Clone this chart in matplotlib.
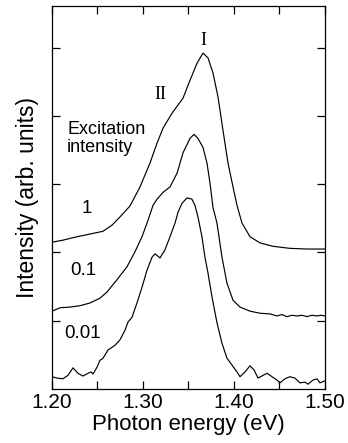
import numpy as np
import matplotlib.pyplot as plt

plt.rcParams['font.family'] = ['Liberation Sans', 'DejaVu Sans']

# spectra (photon energy in eV, intensity in arb. units)
e1 = [1.200, 1.212, 1.2275, 1.2418, 1.256, 1.266, 1.2747, 1.2857, 1.2967, 1.3077,
      1.3154, 1.322, 1.3319, 1.3385, 1.344, 1.3516, 1.3593, 1.3659, 1.3714, 1.3769,
      1.3824, 1.3879, 1.3934, 1.3989, 1.4033, 1.4088, 1.4176, 1.4286, 1.4429, 1.4615,
      1.4802, 1.500]
i1 = [2.15, 2.18, 2.23, 2.27, 2.31, 2.40, 2.52, 2.68, 2.96, 3.31,
      3.60, 3.82, 4.04, 4.16, 4.26, 4.52, 4.77, 4.92, 4.85, 4.63,
      4.28, 3.79, 3.31, 2.96, 2.69, 2.43, 2.23, 2.14, 2.09, 2.06,
      2.05, 2.05]

e2 = [1.200, 1.2088, 1.2198, 1.2308, 1.2418, 1.2527, 1.2604, 1.2714, 1.2824, 1.2912,
      1.2989, 1.3055, 1.311, 1.3154, 1.322, 1.3297, 1.3374, 1.344, 1.3516, 1.356,
      1.3604, 1.3659, 1.3703, 1.3736, 1.3769, 1.3813, 1.3868, 1.3923, 1.3989, 1.4066,
      1.4176, 1.4286, 1.4396, 1.4473, 1.4527, 1.4582, 1.4637, 1.4692, 1.4747, 1.4802,
      1.4857, 1.4912, 1.4956, 1.500]
i2 = [1.14, 1.19, 1.20, 1.22, 1.26, 1.33, 1.42, 1.60, 1.79, 2.01,
      2.23, 2.47, 2.69, 2.78, 2.88, 2.96, 3.16, 3.46, 3.67, 3.73,
      3.67, 3.54, 3.31, 3.02, 2.66, 2.43, 1.93, 1.55, 1.30, 1.20,
      1.14, 1.11, 1.10, 1.07, 1.09, 1.06, 1.08, 1.07, 1.08, 1.06,
      1.08, 1.07, 1.08, 1.07]

e3 = [1.200, 1.2055, 1.2121, 1.2176, 1.2231, 1.2286, 1.234, 1.2396, 1.2429, 1.2451,
      1.2495, 1.2527, 1.256, 1.2615, 1.2659, 1.2692, 1.2747, 1.2802, 1.2835, 1.2879,
      1.2934, 1.2989, 1.3044, 1.3099, 1.3132, 1.3187, 1.3242, 1.3297, 1.3352, 1.3385,
      1.3429, 1.3484, 1.3538, 1.3571, 1.3604, 1.3648, 1.3681, 1.3714, 1.3758, 1.3813,
      1.3868, 1.3923, 1.3978, 1.4033, 1.4066, 1.4121, 1.4176, 1.422, 1.4264, 1.4319,
      1.4363, 1.4418, 1.4473, 1.4505, 1.456, 1.4615, 1.467, 1.4725, 1.478, 1.4813,
      1.4868, 1.4912, 1.4945, 1.500]
i3 = [0.18, 0.16, 0.15, 0.20, 0.31, 0.23, 0.19, 0.23, 0.25, 0.22,
      0.32, 0.42, 0.45, 0.57, 0.61, 0.64, 0.72, 0.86, 0.98, 1.05,
      1.26, 1.49, 1.74, 1.93, 1.98, 1.92, 2.04, 2.23, 2.43, 2.59,
      2.72, 2.80, 2.78, 2.69, 2.52, 2.23, 1.93, 1.70, 1.35, 0.97,
      0.67, 0.45, 0.35, 0.25, 0.18, 0.25, 0.34, 0.28, 0.16, 0.20,
      0.23, 0.18, 0.13, 0.09, 0.15, 0.18, 0.16, 0.09, 0.10, 0.07,
      0.13, 0.15, 0.09, 0.12]

levels = ['1', '0.1', '0.01']

fig = plt.figure(figsize=(3.48, 4.43), dpi=100)
ax = fig.add_axes([0.1494, 0.1219, 0.7845, 0.8646])

for e, i in [(e1, i1), (e2, i2), (e3, i3)]:
    ax.plot(e, i, color='black', lw=0.85, solid_joinstyle='round')

ax.set_xlim(1.20, 1.50)
ax.set_ylim(0, 5.61)
ax.set_xticks(np.arange(1.20, 1.501, 0.05))
ax.set_xticklabels(['1.20', '', '1.30', '', '1.40', '', '1.50'])
ax.set_yticks([1, 2, 3, 4, 5])
ax.set_yticklabels([])
ax.tick_params(direction='in', length=6, width=0.9, top=True, right=True,
               labelsize=15, pad=3)
for s in ax.spines.values():
    s.set_linewidth(0.9)

ax.set_xlabel('Photon energy (eV)', fontsize=16, labelpad=1)
ax.set_ylabel('Intensity (arb. units)', fontsize=16.5, labelpad=6)

# curve labels
ax.text(1.2385, 2.64, levels[0], fontsize=13.5, ha='center', va='center')
ax.text(1.234, 1.73, levels[1], fontsize=13.5, ha='center', va='center')
ax.text(1.234, 0.82, levels[2], fontsize=13.5, ha='center', va='center')
ax.text(1.2165, 3.67, 'Excitation\nintensity', fontsize=13, ha='left',
        va='center', linespacing=1.05)
ax.text(1.366, 5.11, 'I', fontsize=13, family='Liberation Serif',
        ha='center', va='center')
ax.text(1.3187, 4.32, 'II', fontsize=13, family='Liberation Serif',
        ha='center', va='center')

fig.savefig('out.png', dpi=100)
